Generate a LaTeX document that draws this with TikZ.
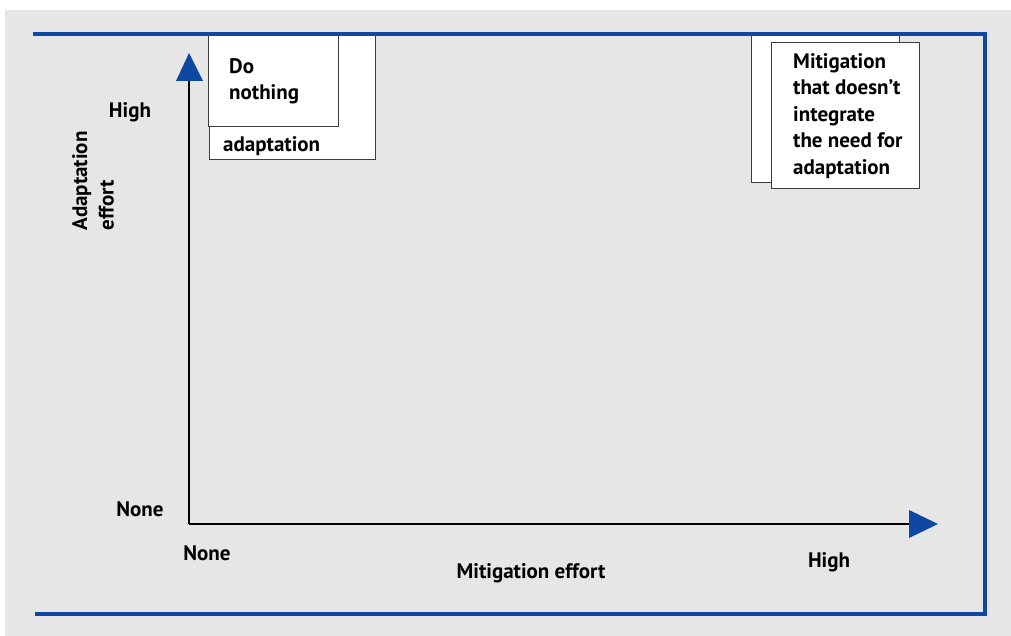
\documentclass[tikz,border=0pt]{standalone}
\usepackage{fontspec}
\setmainfont{PT Sans}
\definecolor{frameblue}{RGB}{14,72,160}
\definecolor{bggray}{RGB}{230,230,230}
\definecolor{boxline}{RGB}{60,60,60}
\begin{document}
\begin{tikzpicture}[x=1pt,y=-1pt,
  lbl/.style={font=\fontsize{21}{26.5}\selectfont\bfseries, inner sep=0pt},
  card/.style={draw=boxline, fill=white, line width=1pt},
  axisline/.style={line width=2pt, black},
  frameline/.style={line width=4pt, frameblue}]
\useasboundingbox (0,0) rectangle (1011,636);
\fill[white] (0,0) rectangle (1011,636);
\fill[bggray] (5,10) rectangle (1011,636);
% left cards
\draw[card] (209,34) rectangle (375,160);
\draw[card] (208,34) rectangle (338,127);
\node[lbl, anchor=base west] (donothing) at (229,74) {Do};
\node[lbl, anchor=base west] (donothing2) at (229,100) {nothing};
\node[lbl, anchor=base west] (adapt) at (223,152) {adaptation};
% right cards
\draw[card] (751,34) rectangle (899,183);
\draw[card] (771,43) rectangle (919,189);
\node[lbl, anchor=north west, align=left] (mitig) at (793,53)
  {Mitigation\\that doesn’t\\integrate\\the need for\\adaptation};
% frame
\draw[frameline] (33,34) -- (985,34) -- (985,614) -- (35,614);
% axes
\coordinate (origin) at (189,524);
\coordinate (ytop) at (189,81);
\coordinate (xend) at (909,524);
\draw[axisline] (origin) -- (ytop);
\draw[axisline] (origin) -- (xend);
\fill[frameblue] (176,81) -- (189,53) -- (203,81) -- cycle;
\fill[frameblue] (909,510) -- (938,524) -- (909,538) -- cycle;
% labels
\node[lbl] (yhigh) at (130,112) {High};
\node[lbl] (ynone) at (140,509) {None};
\node[lbl, rotate=90, align=left] (ylabel) at (93,181) {Adaptation\\effort};
\node[lbl] (xnone) at (207,553) {None};
\node[lbl] (xlabel) at (531,573) {Mitigation effort};
\node[lbl] (xhigh) at (829,562) {High};
\end{tikzpicture}
\end{document}
